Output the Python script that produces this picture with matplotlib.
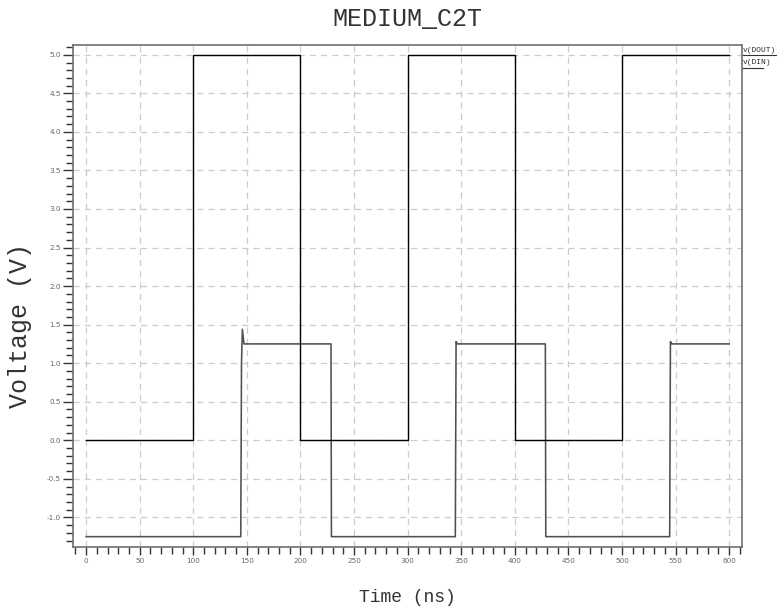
import matplotlib
matplotlib.use("Agg")
import matplotlib.pyplot as plt
from matplotlib.lines import Line2D
from matplotlib.ticker import MultipleLocator, FormatStrFormatter

# ---- data (time in ns, voltage in V) ----
din_t = [0, 100, 100, 200, 200, 300, 300, 400, 400, 500, 500, 600]
din_v = [0.0, 0.0, 5.0, 5.0, 0.0, 0.0, 5.0, 5.0, 0.0, 0.0, 5.0, 5.0]

dout_t = [0, 144.3, 145.0, 145.8, 147.3, 228.5, 228.9,
          344.5, 345.2, 346.5, 428.5, 428.9,
          544.5, 545.2, 546.5, 600]
dout_v = [-1.25, -1.25, 1.0, 1.44, 1.25, 1.25, -1.25,
          -1.25, 1.28, 1.25, 1.25, -1.25,
          -1.25, 1.28, 1.25, 1.25]

xticks = [0, 50, 100, 150, 200, 250, 300, 350, 400, 450, 500, 550, 600]
yticks = [-1.0, -0.5, 0.0, 0.5, 1.0, 1.5, 2.0, 2.5, 3.0, 3.5, 4.0, 4.5, 5.0]
legend_labels = ["v(DOUT)", "v(DIN)"]
title = "MEDIUM_C2T"
xlabel = "Time (ns)"
ylabel = "Voltage (V)"

W, H = 777, 613
fig = plt.figure(figsize=(W / 100, H / 100), dpi=100)
ax = fig.add_axes([72.7 / W, 1 - 547.3 / H, (741.7 - 72.7) / W, (547.3 - 45) / H])

ax.plot(dout_t, dout_v, color="#505050", lw=1.15, zorder=3)
ax.plot(din_t, din_v, color="black", lw=1.0, zorder=4)

ax.set_xlim(-12.5, 611.7)
ax.set_ylim(-1.388, 5.127)

ax.set_xticks(xticks)
ax.set_yticks(yticks)
ax.xaxis.set_minor_locator(MultipleLocator(10))
ax.yaxis.set_minor_locator(MultipleLocator(0.1))
ax.yaxis.set_major_formatter(FormatStrFormatter("%.1f"))

ax.grid(True, which="major", color="#cccccc", linestyle=(0, (5, 4)), lw=0.9)
ax.set_axisbelow(True)

for s in ax.spines.values():
    s.set_color("#707070")
    s.set_linewidth(1.2)

ax.tick_params(axis="both", which="major", direction="out", length=7, width=1.0,
               color="#333333", labelsize=5.2, labelcolor="#666666", pad=1.5)
ax.tick_params(axis="both", which="minor", direction="out", length=5, width=1.0,
               color="#333333")
ax.tick_params(axis="x", which="major", length=6)
ax.tick_params(axis="x", which="minor", length=5)

mono = "Liberation Mono"
fig.text(407 / W, 1 - 19 / H, title, ha="center", va="center",
         fontsize=18, family=mono, color="#333333")
fig.text(407 / W, 1 - 598 / H, xlabel, ha="center", va="center",
         fontsize=13, family=mono, color="#333333")
fig.text(20 / W, 1 - 326 / H, ylabel, ha="center", va="center", rotation=90,
         fontsize=18, family=mono, color="#333333")

# legend labels on the right, underlined
leg_y = [50, 63]
for lab, yy in zip(legend_labels, leg_y):
    fig.text(742.5 / W, 1 - yy / H, lab, ha="left", va="center",
             fontsize=5.7, family=mono, color="#333333")
    fig.add_artist(Line2D([743 / W, 776 / W if lab.endswith("OUT)") else 763 / W],
                          [1 - (yy + 4.5) / H] * 2, transform=fig.transFigure,
                          color="#333333", lw=0.8))

fig.savefig("out.png", dpi=100)
